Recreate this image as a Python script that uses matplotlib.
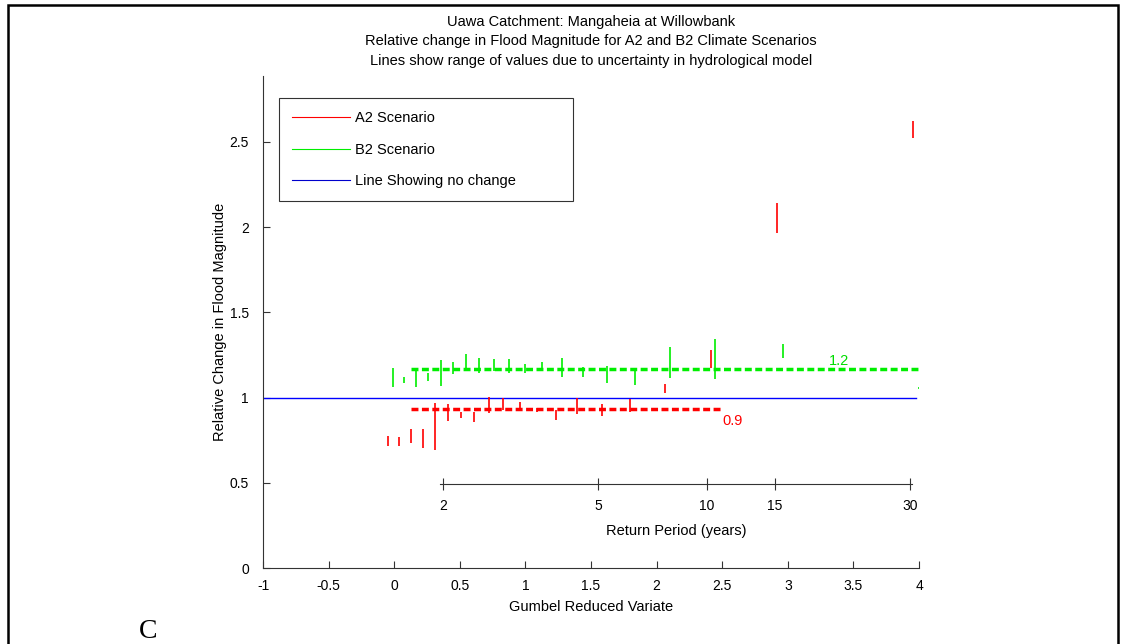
import numpy as np
import matplotlib.pyplot as plt
from matplotlib.lines import Line2D
from matplotlib.patches import Rectangle

plt.rcParams['font.family'] = ['Liberation Sans', 'DejaVu Sans']

# B2 scenario: gumbel variate, low and high of range
b2_x = [-0.011, 0.077, 0.168, 0.26, 0.354, 0.45, 0.545, 0.649, 0.761, 0.875,
        0.997, 1.129, 1.277, 1.437, 1.622, 1.835, 2.104, 2.445, 2.961, 3.998]
b2_lo = [1.064, 1.084, 1.064, 1.099, 1.070, 1.139, 1.162, 1.146, 1.158, 1.143,
         1.146, 1.168, 1.123, 1.123, 1.088, 1.074, 1.117, 1.109, 1.231, 1.052]
b2_hi = [1.172, 1.123, 1.172, 1.143, 1.221, 1.207, 1.256, 1.231, 1.226, 1.225,
         1.195, 1.207, 1.231, 1.178, 1.185, 1.172, 1.295, 1.342, 1.315, 1.064]

# A2 scenario
a2_x = [-0.05, 0.039, 0.128, 0.222, 0.313, 0.408, 0.509, 0.611, 0.720, 0.832,
        0.956, 1.086, 1.231, 1.396, 1.582, 1.800, 2.064, 2.412, 2.920, 3.954]
a2_lo = [0.716, 0.716, 0.732, 0.702, 0.692, 0.863, 0.882, 0.859, 0.908, 0.927,
         0.927, 0.917, 0.869, 0.902, 0.894, 0.917, 1.029, 1.172, 1.964, 2.523]
a2_hi = [0.775, 0.771, 0.816, 0.818, 0.970, 0.961, 0.915, 0.915, 1.002, 0.996,
         0.972, 0.937, 0.927, 0.999, 0.962, 0.990, 1.078, 1.279, 2.140, 2.623]

# mean lines
b2_mean = 1.17
a2_mean = 0.933
b2_span = [0.128, 4.0]
a2_span = [0.128, 2.508]

# return period axis
rp_labels = ['2', '5', '10', '15', '30']
rp_pos = [0.372, 1.553, 2.384, 2.902, 3.931]

fig = plt.figure(figsize=(11.25, 6.44), dpi=100)
ax = fig.add_axes([263/1125, 1-568/644, 656/1125, 492/644])

ax.plot([-1, 3.98], [1, 1], color='#0000ff', lw=1)
ax.vlines(b2_x, b2_lo, b2_hi, colors='#00ee00', lw=1.2)
ax.vlines(a2_x, a2_lo, a2_hi, colors='#ff0000', lw=1.2)
ax.plot(b2_span, [b2_mean, b2_mean], color='#00ee00', lw=2.5, ls=(0, (2, 1)))
ax.plot(a2_span, [a2_mean, a2_mean], color='#ff0000', lw=2.5, ls=(0, (2, 1)))
ax.text(3.39, 1.215, '%.1f' % b2_mean, color='#00dd00', fontsize=10.5, ha='center', va='center')
ax.text(2.58, 0.864, '%.1f' % a2_mean, color='#ff0000', fontsize=10.5, ha='center', va='center')

ax.set_xlim(-1, 4)
ax.set_ylim(0, 2.887)
ax.set_xticks(np.arange(-1, 4.01, 0.5), ['-1', '-0.5', '0', '0.5', '1', '1.5', '2', '2.5', '3', '3.5', '4'])
ax.set_yticks(np.arange(0, 2.51, 0.5), ['0', '0.5', '1', '1.5', '2', '2.5'])
ax.tick_params(direction='in', length=5, labelsize=10, color='#333333')
ax.tick_params(axis='x', pad=8)
ax.tick_params(axis='y', pad=10)
for s in ['top', 'right']:
    ax.spines[s].set_visible(False)
for s in ['left', 'bottom']:
    ax.spines[s].set_color('#333333')
ax.set_xlabel('Gumbel Reduced Variate', fontsize=10.5, labelpad=5)
ax.set_ylabel('Relative Change in Flood Magnitude', fontsize=10.5, labelpad=2)
ax.set_title('Uawa Catchment: Mangaheia at Willowbank\n'
             'Relative change in Flood Magnitude for A2 and B2 Climate Scenarios\n'
             'Lines show range of values due to uncertainty in hydrological model',
             fontsize=10.5, linespacing=1.5, pad=8)

handles = [Line2D([], [], color='#ff0000', lw=0.8),
           Line2D([], [], color='#00ee00', lw=0.8),
           Line2D([], [], color='#0000cc', lw=0.8)]
leg = ax.legend(handles, ['A2 Scenario', 'B2 Scenario', 'Line Showing no change'],
                loc='upper left', bbox_to_anchor=(0.024, 0.5, 0.448, 0.455), mode='expand',
                borderaxespad=0, fancybox=False, fontsize=10.5, handlelength=4.0,
                labelspacing=1.2, borderpad=0.9, handletextpad=0.3)
leg.get_frame().set_edgecolor('black')
leg.get_frame().set_linewidth(0.8)

# return period axis drawn inside the plot
rax = ax.inset_axes([0.35, 0.493, 3.95 - 0.35, 0.0001], transform=ax.transData)
rax.set_xlim(0.35, 3.95)
rax.patch.set_visible(False)
for s in ['top', 'left', 'right']:
    rax.spines[s].set_visible(False)
rax.spines['bottom'].set_color('#333333')
rax.set_yticks([])
rax.set_xticks(rp_pos, rp_labels)
rax.tick_params(direction='inout', length=9, labelsize=10, pad=6, color='#333333')
rax.set_xlabel('Return Period (years)', fontsize=10.5, labelpad=8)

fig.patches.append(Rectangle((8/1125, -0.02), 1110/1125, 1.02 - 5/644,
                             transform=fig.transFigure, fill=False, ec='black', lw=1.8))
fig.text(148/1125, 1 - 632/644, 'C', family=['Liberation Serif', 'DejaVu Serif'],
         fontsize=20, ha='center', va='center')

fig.savefig('out.png', dpi=100)
